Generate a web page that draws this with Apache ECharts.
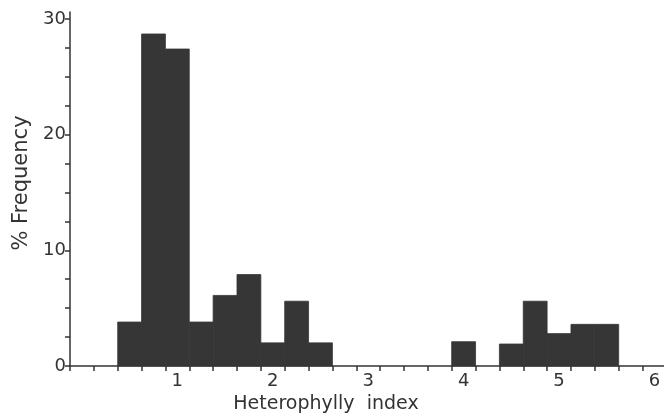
<!DOCTYPE html>
<html>
<head>
<meta charset="utf-8">
<script src="https://cdn.jsdelivr.net/npm/echarts@6/dist/echarts.min.js"></script>
<style>
  html, body { margin: 0; padding: 0; background: #fff; }
  #chart { width: 664px; height: 419px; }
</style>
</head>
<body>
<div id="chart"></div>
<script>
// bin centres of the histogram (bin width 0.25)
const binCenters = [0.5, 0.75, 1.0, 1.25, 1.5, 1.75, 2.0, 2.25, 2.5, 4.0, 4.5, 4.75, 5.0, 5.25, 5.5];
const frequency = [3.8, 28.7, 27.4, 3.8, 6.1, 7.9, 2.0, 5.6, 2.0, 2.1, 1.9, 5.6, 2.8, 3.6, 3.6];
const binWidth = 0.25;

// tick marks sit on bin edges, labels on whole numbers
const xTicks = [-0.125, 0.125, 0.375, 0.625, 0.875, 1.125, 1.375, 1.625, 1.875, 2.125, 2.375, 2.625,
  2.875, 3.125, 3.375, 3.625, 3.875, 4.125, 4.375, 4.625, 4.875, 5.125, 5.375, 5.625, 5.875];
const xLabels = [1, 2, 3, 4, 5, 6];
const yTicks = [0, 2.5, 5, 7.5, 10, 12.5, 15, 17.5, 20, 22.5, 25, 27.5, 30];
const yLabels = [0, 10, 20, 30];

const ink = '#333';
const barColor = '#363636';
const chart = echarts.init(document.getElementById('chart'));

const option = {
  backgroundColor: '#fff',
  animation: false,
  grid: { left: 70, right: 0, top: 12, bottom: 53, containLabel: false, outerBoundsMode: 'none' },
  xAxis: {
    type: 'value',
    min: -0.125,
    max: 6.1,
    name: 'Heterophylly  index',
    nameLocation: 'middle',
    nameGap: 28,
    nameTextStyle: { fontFamily: 'DejaVu Sans', fontSize: 19, color: ink, padding: [0, 82, 0, 0] },
    axisLine: { onZero: false, lineStyle: { color: ink, width: 1.5 } },
    axisTick: { customValues: xTicks, length: 5, lineStyle: { color: ink, width: 1.5 } },
    axisLabel: { customValues: xLabels, fontFamily: 'DejaVu Sans', fontSize: 18, color: ink, margin: 6 },
    splitLine: { show: false }
  },
  yAxis: {
    type: 'value',
    min: 0,
    max: 30.6,
    name: '% Frequency',
    nameLocation: 'middle',
    nameGap: 36,
    nameTextStyle: { fontFamily: 'DejaVu Sans', fontSize: 21, color: ink, padding: [0, 0, 0, 12] },
    axisLine: { show: true, onZero: false, lineStyle: { color: ink, width: 1.5 } },
    axisTick: { show: true, customValues: yTicks, length: 5, lineStyle: { color: ink, width: 1.5 } },
    axisLabel: { customValues: yLabels, fontFamily: 'DejaVu Sans', fontSize: 18, color: ink, margin: 4 },
    splitLine: { show: false }
  },
  series: [{
    type: 'custom',
    data: binCenters.map((c, i) => [c, frequency[i]]),
    encode: { x: 0, y: 1 },
    renderItem: function (params, api) {
      const c = api.value(0);
      const h = api.value(1);
      const topLeft = api.coord([c - binWidth / 2, h]);
      const bottomRight = api.coord([c + binWidth / 2, 0]);
      return {
        type: 'rect',
        shape: {
          x: topLeft[0],
          y: topLeft[1],
          width: bottomRight[0] - topLeft[0],
          height: bottomRight[1] - topLeft[1]
        },
        style: { fill: barColor, stroke: barColor, lineWidth: 0.8 }
      };
    }
  }]
};

chart.setOption(option);
</script>
</body>
</html>
